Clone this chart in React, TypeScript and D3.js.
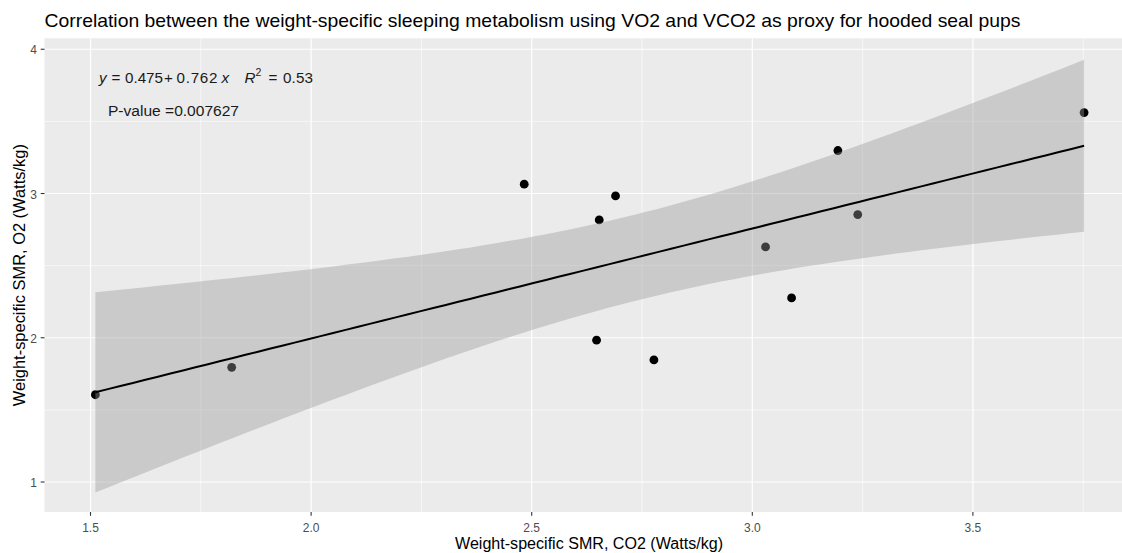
import React from "react";
import * as d3 from "d3";

const xValues = [1.511, 1.82, 2.483, 2.647, 2.653, 2.69, 2.777, 3.03, 3.089, 3.194, 3.239, 3.752];
const yValues = [1.605, 1.795, 3.065, 1.983, 2.817, 2.983, 1.846, 2.63, 2.276, 3.298, 2.854, 3.561];
const xTicks = [1.5, 2.0, 2.5, 3.0, 3.5];
const xMinor = [1.75, 2.25, 2.75, 3.25, 3.75];
const yTicks = [1, 2, 3, 4];
const yMinor = [1.5, 2.5, 3.5];
const titleText = "Correlation between the weight-specific sleeping metabolism using VO2 and VCO2 as proxy for hooded seal pups";
const xLabel = "Weight-specific SMR, CO2 (Watts/kg)";
const yLabel = "Weight-specific SMR, O2 (Watts/kg)";
const pValueText = "P-value =0.007627";
const tCrit = 2.228; // t(0.975, df = 10)

const W = 1122;
const H = 553;
const PL = 44.5, PR = 1133.5, PT = 38.3, PB = 512;

export default function App() {
  const x = d3.scaleLinear().domain([1.3957, 3.864]).range([PL, PR]);
  const y = d3.scaleLinear().domain([0.792, 4.076]).range([PB, PT]);

  const n = xValues.length;
  const mx = d3.mean(xValues)!;
  const my = d3.mean(yValues)!;
  let sxx = 0, sxy = 0;
  for (let i = 0; i < n; i++) {
    sxx += (xValues[i] - mx) ** 2;
    sxy += (xValues[i] - mx) * (yValues[i] - my);
  }
  const b = sxy / sxx;
  const a = my - b * mx;
  let sse = 0;
  for (let i = 0; i < n; i++) sse += (yValues[i] - a - b * xValues[i]) ** 2;
  const s = Math.sqrt(sse / (n - 2));
  const [xmin, xmax] = d3.extent(xValues) as [number, number];
  const grid = d3.range(80).map((i) => xmin + ((xmax - xmin) * i) / 79);
  const fitted = grid.map((gx) => {
    const fit = a + b * gx;
    const se = s * Math.sqrt(1 / n + (gx - mx) ** 2 / sxx);
    return { gx, fit, lo: fit - tCrit * se, hi: fit + tCrit * se };
  });
  const area = d3
    .area<any>()
    .x((d) => x(d.gx))
    .y0((d) => y(d.lo))
    .y1((d) => y(d.hi));
  const line = d3
    .line<any>()
    .x((d) => x(d.gx))
    .y((d) => y(d.fit));

  const font = "'Liberation Sans', Arial, sans-serif";
  const annFs = 15.2;

  return (
    <svg
      width={W}
      height={H}
      style={{ position: "absolute", left: 0, top: 0, background: "#fff" }}
      fontFamily={font}
    >
      <defs>
        <clipPath id="panel">
          <rect x={PL} y={PT} width={PR - PL} height={PB - PT} />
        </clipPath>
      </defs>
      <rect x={PL} y={PT} width={PR - PL} height={PB - PT} fill="#EBEBEB" />
      <g clipPath="url(#panel)">
        {xMinor.map((t) => (
          <line key={"xm" + t} x1={x(t)} x2={x(t)} y1={PT} y2={PB} stroke="#fff" strokeWidth={0.6} />
        ))}
        {yMinor.map((t) => (
          <line key={"ym" + t} x1={PL} x2={PR} y1={y(t)} y2={y(t)} stroke="#fff" strokeWidth={0.6} />
        ))}
        {xTicks.map((t) => (
          <line key={"xM" + t} x1={x(t)} x2={x(t)} y1={PT} y2={PB} stroke="#fff" strokeWidth={1.2} />
        ))}
        {yTicks.map((t) => (
          <line key={"yM" + t} x1={PL} x2={PR} y1={y(t)} y2={y(t)} stroke="#fff" strokeWidth={1.2} />
        ))}
        {xValues.map((v, i) => (
          <circle key={"p" + i} cx={x(v)} cy={y(yValues[i])} r={4.4} fill="#000" />
        ))}
        <path d={area(fitted) || ""} fill="#999999" fillOpacity={0.4} />
        <path d={line(fitted) || ""} fill="none" stroke="#000" strokeWidth={2} />
      </g>
      {/* axes ticks */}
      {xTicks.map((t) => (
        <g key={"xt" + t}>
          <line x1={x(t)} x2={x(t)} y1={PB} y2={PB + 3.8} stroke="#333" strokeWidth={1.1} />
          <text x={x(t)} y={PB + 20} fontSize={12} fill="#4D4D4D" textAnchor="middle">
            {t.toFixed(1)}
          </text>
        </g>
      ))}
      {yTicks.map((t) => (
        <g key={"yt" + t}>
          <line x1={PL - 3.8} x2={PL} y1={y(t)} y2={y(t)} stroke="#333" strokeWidth={1.1} />
          <text x={37} y={y(t) + 5} fontSize={12} fill="#4D4D4D" textAnchor="end">
            {t}
          </text>
        </g>
      ))}
      {/* annotation */}
      <text y={82.7} fontSize={annFs} fill="#1a1a1a">
        <tspan x={99} fontStyle="italic">y</tspan>
        <tspan x={111.5}>=</tspan>
        <tspan x={125} textLength={38}>0.475</tspan>
        <tspan x={164}>+</tspan>
        <tspan x={176.5} textLength={41}>0.762</tspan>
        <tspan x={221.5} fontStyle="italic">x</tspan>
        <tspan x={244.5} fontStyle="italic">R</tspan>
        <tspan x={255.5} dy={-7} fontSize={10.5}>2</tspan>
        <tspan x={268.5} dy={7}>=</tspan>
        <tspan x={283} textLength={30}>0.53</tspan>
      </text>
      <text x={108} y={115.5} fontSize={annFs} fill="#1a1a1a" textLength={131} lengthAdjust="spacingAndGlyphs">
        {pValueText}
      </text>
      {/* title and labels */}
      <text x={PL} y={27} fontSize={18.4} fill="#000" textLength={976} lengthAdjust="spacingAndGlyphs">
        {titleText}
      </text>
      <text
        x={(PL + PR) / 2}
        y={549}
        fontSize={15.6}
        fill="#000"
        textAnchor="middle"
        textLength={268}
        lengthAdjust="spacingAndGlyphs"
      >
        {xLabel}
      </text>
      <text
        transform={`translate(25,${(PT + PB) / 2}) rotate(-90)`}
        fontSize={15.6}
        fill="#000"
        textAnchor="middle"
        textLength={262}
        lengthAdjust="spacingAndGlyphs"
      >
        {yLabel}
      </text>
    </svg>
  );
}
